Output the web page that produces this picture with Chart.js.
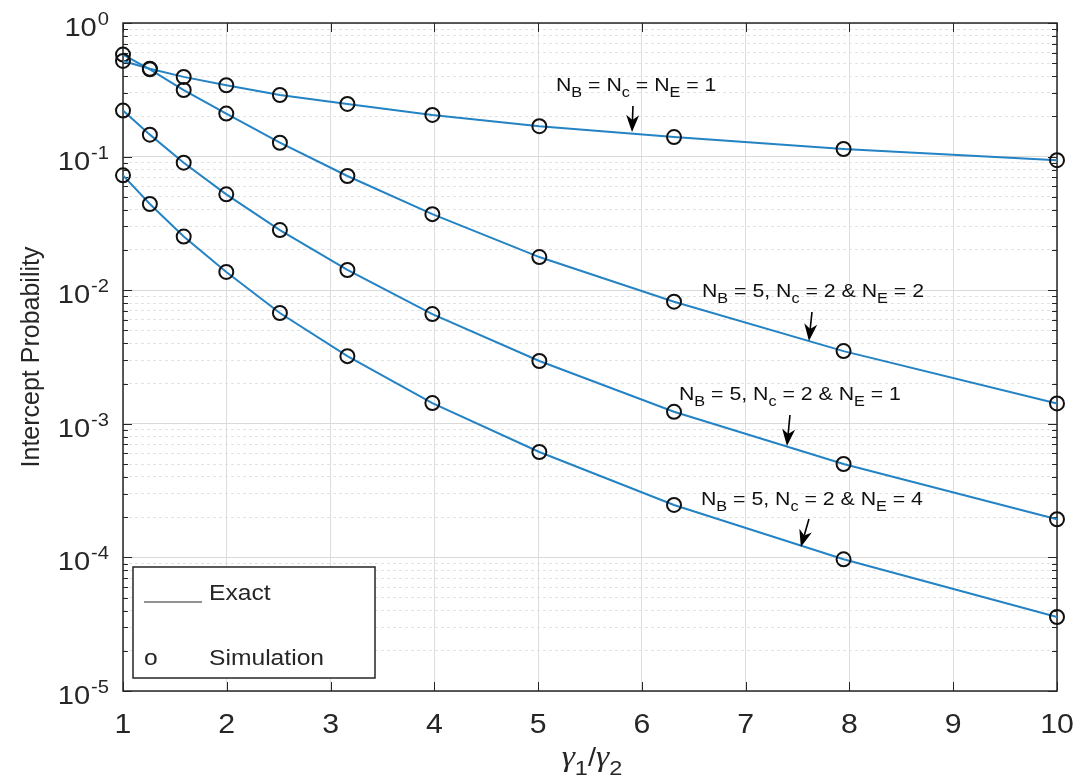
<!DOCTYPE html>
<html>
<head>
<meta charset="utf-8">
<script src="https://cdn.jsdelivr.net/npm/chart.js@4.4.1/dist/chart.umd.min.js"></script>
<style>
  html, body { margin: 0; padding: 0; background: #ffffff; }
  #wrap { width: 1081px; height: 780px; position: relative; }
</style>
</head>
<body>
<div id="wrap"><canvas id="c" width="1081" height="780"></canvas></div>
<script>
// SNR ratio gamma1/gamma2 at which the intercept probability is evaluated
const gammaRatio = [1, 1.2589, 1.5849, 1.9953, 2.5119, 3.1623, 3.9811, 5.0119, 6.3096, 7.9433, 10];

// Intercept probability for each antenna configuration
const probNB1NC1NE1 = [0.52, 0.455, 0.395, 0.342, 0.289, 0.248, 0.205, 0.169, 0.140, 0.114, 0.094];
const probNB5NC2NE2 = [0.58, 0.45, 0.315, 0.21, 0.127, 0.0716, 0.0371, 0.0177, 0.0082, 0.0035, 0.00142];
const probNB5NC2NE1 = [0.221, 0.146, 0.090, 0.0522, 0.0282, 0.01417, 0.00663, 0.00295, 0.00123, 0.0005, 0.000193];
const probNB5NC2NE4 = [0.0724, 0.0442, 0.0252, 0.0137, 0.00675, 0.00321, 0.00143, 0.000615, 0.000247, 0.0000968, 0.0000358];

// Axis ticks
const xTickValues = [1, 2, 3, 4, 5, 6, 7, 8, 9, 10];
const yDecadeExponents = [-5, -4, -3, -2, -1, 0];

// Curve annotations: text runs (sub = subscript), text anchor and arrow (data units)
const curveNotes = [
  { runs: [['N'], ['B', 1], [' = N'], ['c', 1], [' = N'], ['E', 1], [' = 1']],
    at: [5.172, 0.31], from: [5.914, 0.239], to: [5.905, 0.153] },
  { runs: [['N'], ['B', 1], [' = 5, N'], ['c', 1], [' = 2 & N'], ['E', 1], [' = 2']],
    at: [6.579, 0.00889], from: [7.639, 0.00687], to: [7.610, 0.00417] },
  { runs: [['N'], ['B', 1], [' = 5, N'], ['c', 1], [' = 2 & N'], ['E', 1], [' = 1']],
    at: [6.357, 0.00151], from: [7.427, 0.001164], to: [7.398, 0.000682] },
  { runs: [['N'], ['B', 1], [' = 5, N'], ['c', 1], [' = 2 & N'], ['E', 1], [' = 4']],
    at: [6.569, 0.000247], from: [7.610, 0.000194], to: [7.532, 0.0001197] }
];

const LINE_BLUE = '#2383c4';
const INK = '#262626';
const SANS = '"Liberation Sans", Arial, sans-serif';
const STRETCH = 1.12; // horizontal text widening

function series(values) {
  return gammaRatio.map((g, i) => ({ x: g, y: values[i] }));
}

function makeDataset(label, values) {
  return {
    label: label,
    data: series(values),
    borderColor: LINE_BLUE,
    borderWidth: 2,
    tension: 0,
    pointStyle: 'circle',
    pointRadius: 7,
    pointHoverRadius: 7,
    pointBorderColor: '#111111',
    pointBorderWidth: 2,
    pointBackgroundColor: 'rgba(0,0,0,0)',
    clip: false
  };
}

function isDecade(v) {
  const l = Math.log10(v);
  return Math.abs(l - Math.round(l)) < 1e-6;
}

function textW(ctx, s, font) {
  ctx.font = font;
  return ctx.measureText(s).width * STRETCH;
}

function drawText(ctx, s, x, y, font, align) {
  ctx.save();
  ctx.font = font;
  const w = ctx.measureText(s).width * STRETCH;
  let x0 = x;
  if (align === 'right') x0 = x - w;
  else if (align === 'center') x0 = x - w / 2;
  ctx.translate(x0, y);
  ctx.scale(STRETCH, 1);
  ctx.textAlign = 'left';
  ctx.textBaseline = 'alphabetic';
  ctx.fillText(s, 0, 0);
  ctx.restore();
  return w;
}

function drawArrow(ctx, x0, y0, x1, y1) {
  const ang = Math.atan2(y1 - y0, x1 - x0);
  const len = 17, half = 6.5, notch = 5;
  const ca = Math.cos(ang), sa = Math.sin(ang);
  const bx = x1 - ca * len, by = y1 - sa * len;
  ctx.save();
  ctx.strokeStyle = '#000';
  ctx.fillStyle = '#000';
  ctx.lineWidth = 1.6;
  ctx.beginPath();
  ctx.moveTo(x0, y0);
  ctx.lineTo(bx + ca * notch, by + sa * notch);
  ctx.stroke();
  ctx.beginPath();
  ctx.moveTo(x1, y1);
  ctx.lineTo(bx - sa * half, by + ca * half);
  ctx.lineTo(bx + ca * notch, by + sa * notch);
  ctx.lineTo(bx + sa * half, by - ca * half);
  ctx.closePath();
  ctx.fill();
  ctx.restore();
}

// Axes box with inward ticks, drawn under the markers
const axesFrame = {
  id: 'axesFrame',
  beforeDatasetsDraw(chart) {
    const { ctx, chartArea: a, scales: { x, y } } = chart;
    ctx.save();
    ctx.strokeStyle = INK;
    ctx.lineWidth = 1;
    ctx.beginPath();
    xTickValues.forEach(v => {
      const px = Math.round(x.getPixelForValue(v)) + 0.5;
      ctx.moveTo(px, a.bottom); ctx.lineTo(px, a.bottom - 9);
      ctx.moveTo(px, a.top); ctx.lineTo(px, a.top + 9);
    });
    y.ticks.forEach(t => {
      const py = Math.round(y.getPixelForValue(t.value)) + 0.5;
      const L = isDecade(t.value) ? 9 : 5;
      ctx.moveTo(a.left, py); ctx.lineTo(a.left + L, py);
      ctx.moveTo(a.right, py); ctx.lineTo(a.right - L, py);
    });
    ctx.stroke();
    ctx.lineWidth = 1.5;
    ctx.strokeRect(a.left, a.top, a.right - a.left, a.bottom - a.top);
    ctx.restore();
  }
};

// Tick labels, axis titles, legend and curve notes
const decorations = {
  id: 'decorations',
  afterDraw(chart) {
    const { ctx, chartArea: a, scales: { x, y } } = chart;
    ctx.save();
    ctx.fillStyle = INK;

    // x tick labels
    xTickValues.forEach(v => {
      drawText(ctx, String(v), x.getPixelForValue(v), a.bottom + 42, '27px ' + SANS, 'center');
    });

    // y tick labels as 10^k
    yDecadeExponents.forEach(k => {
      const py = y.getPixelForValue(Math.pow(10, k));
      const expFont = '18px ' + SANS;
      const expStr = k < 0 ? '-' + Math.abs(k) : String(k);
      const ew = textW(ctx, expStr, expFont);
      const right = a.left - 14;
      drawText(ctx, expStr, right - ew, py + 2, expFont, 'left');
      drawText(ctx, '10', right - ew - 1, py + 13, '26px ' + SANS, 'right');
    });

    // y axis title
    ctx.save();
    ctx.translate(39, (a.top + a.bottom) / 2);
    ctx.rotate(-Math.PI / 2);
    ctx.font = '25px ' + SANS;
    ctx.textAlign = 'center';
    ctx.textBaseline = 'alphabetic';
    ctx.fillText('Intercept Probability', 0, 0);
    ctx.restore();

    // x axis title: gamma_1 / gamma_2
    {
      const gFont = 'italic 30px "Liberation Serif", serif';
      const sFont = '21px ' + SANS;
      const slash = '26px ' + SANS;
      const parts = [['\u03b3', gFont, 0], ['1', sFont, 9], ['/', slash, 0], ['\u03b3', gFont, 0], ['2', sFont, 9]];
      let total = 0;
      parts.forEach(p => { total += textW(ctx, p[0], p[1]); });
      let cx = (a.left + a.right) / 2 - total / 2 + 2;
      const base = 766;
      parts.forEach(p => { cx += drawText(ctx, p[0], cx, base + p[2], p[1], 'left'); });
    }

    // legend box
    {
      const lx = 133, ly = 567, lw = 242, lh = 111;
      ctx.fillStyle = '#ffffff';
      ctx.fillRect(lx, ly, lw, lh);
      ctx.strokeStyle = INK;
      ctx.lineWidth = 1.5;
      ctx.strokeRect(lx, ly, lw, lh);
      ctx.lineWidth = 1.2;
      ctx.beginPath();
      ctx.moveTo(144, 602); ctx.lineTo(202, 602);
      ctx.stroke();
      ctx.fillStyle = INK;
      drawText(ctx, 'Exact', 209, 600, '22px ' + SANS, 'left');
      drawText(ctx, 'o', 144, 665, '22px ' + SANS, 'left');
      drawText(ctx, 'Simulation', 209, 665, '22px ' + SANS, 'left');
    }

    // curve notes with arrows
    curveNotes.forEach(n => {
      const tx = x.getPixelForValue(n.at[0]);
      const ty = y.getPixelForValue(n.at[1]);
      let cx = tx;
      ctx.fillStyle = '#111';
      n.runs.forEach(r => {
        const sub = r[1] === 1;
        const font = (sub ? '14.5px ' : '19px ') + SANS;
        cx += drawText(ctx, r[0], cx, ty + (sub ? 6 : 0), font, 'left');
      });
      drawArrow(ctx,
        x.getPixelForValue(n.from[0]), y.getPixelForValue(n.from[1]),
        x.getPixelForValue(n.to[0]), y.getPixelForValue(n.to[1]));
    });

    ctx.restore();
  }
};

new Chart(document.getElementById('c'), {
  type: 'line',
  data: {
    datasets: [
      makeDataset('N_B = N_c = N_E = 1', probNB1NC1NE1),
      makeDataset('N_B = 5, N_c = 2 & N_E = 2', probNB5NC2NE2),
      makeDataset('N_B = 5, N_c = 2 & N_E = 1', probNB5NC2NE1),
      makeDataset('N_B = 5, N_c = 2 & N_E = 4', probNB5NC2NE4)
    ]
  },
  options: {
    responsive: false,
    animation: false,
    devicePixelRatio: 1,
    layout: { padding: { left: 123, right: 24, top: 23, bottom: 89 } },
    plugins: { legend: { display: false }, tooltip: { enabled: false } },
    events: [],
    scales: {
      x: {
        type: 'linear',
        min: 1,
        max: 10,
        afterBuildTicks(scale) { scale.ticks = xTickValues.map(v => ({ value: v })); },
        ticks: { display: false },
        grid: { color: '#dedede', lineWidth: 1, drawTicks: false },
        border: { display: false }
      },
      y: {
        type: 'logarithmic',
        min: 1e-5,
        max: 1,
        afterBuildTicks(scale) {
          const t = [];
          yDecadeExponents.forEach(k => {
            if (k === 0) { t.push({ value: 1 }); return; }
            for (let m = 1; m <= 9; m++) t.push({ value: m * Math.pow(10, k) });
          });
          scale.ticks = t;
        },
        ticks: { display: false },
        grid: {
          color: ctx => (ctx.tick && isDecade(ctx.tick.value)) ? '#d9d9d9' : '#e2e2e2',
          lineWidth: 1,
          drawTicks: false
        },
        border: {
          display: false,
          dash: ctx => (ctx.tick && isDecade(ctx.tick.value)) ? [] : [3, 3]
        }
      }
    }
  },
  plugins: [axesFrame, decorations]
});
</script>
</body>
</html>
